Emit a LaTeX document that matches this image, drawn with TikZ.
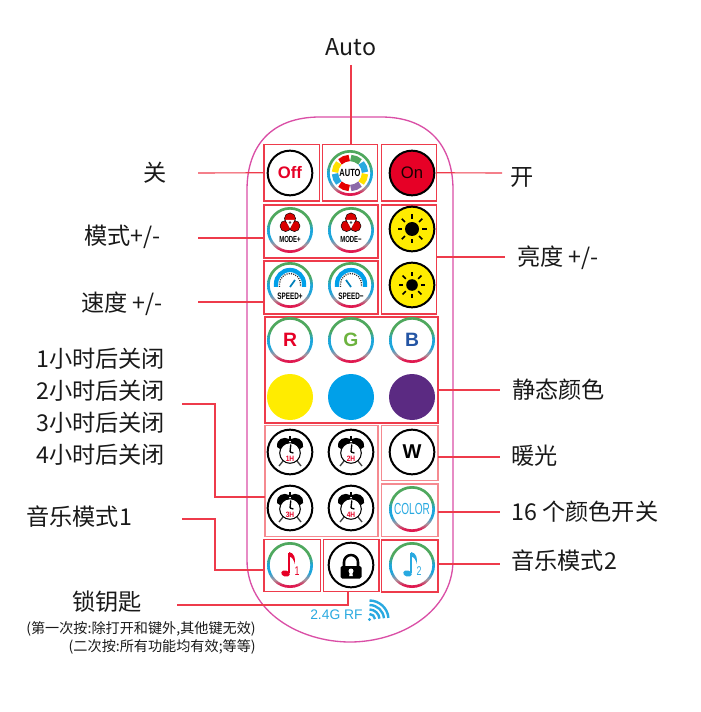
\documentclass[tikz,border=0pt]{standalone}
\usepackage{fontspec}
\setmainfont{Noto Sans CJK SC}
\newfontfamily\latinb{Liberation Sans}
\usetikzlibrary{fit}
\definecolor{lnred}{HTML}{EE3B4B}
\definecolor{lnpale}{HTML}{F58A90}
\definecolor{shell}{HTML}{DA4FA6}
\definecolor{rg}{HTML}{4FA85E}
\definecolor{rc}{HTML}{1CA6DC}
\definecolor{rv}{HTML}{A8929C}
\definecolor{rb}{HTML}{E0184F}
\definecolor{skyb}{HTML}{29A9E0}
\definecolor{redb}{HTML}{E60026}
\definecolor{yel}{HTML}{FFEC00}
\definecolor{purp}{HTML}{5B2A82}
\definecolor{cyanb}{HTML}{00A0E9}
\definecolor{gtxt}{HTML}{6DB33F}
\definecolor{btxt}{HTML}{2455A4}
\pgfdeclareverticalshading{ringsh}{100bp}{color(0bp)=(rb); color(28bp)=(rb); color(34bp)=(rv); color(42bp)=(rc); color(50bp)=(rc); color(60bp)=(rg); color(100bp)=(rg)}
\tikzset{
  boxn/.style={draw=lnred,line width=.85pt,inner sep=0pt,outer sep=0pt},
  boxp/.style={draw=lnpale,line width=1pt,inner sep=0pt,outer sep=0pt},
  conn/.style={draw=lnred,line width=.85pt},
  lab/.style={inner sep=0pt,font=\fontsize{17.4}{19}\selectfont,text=black!90},
  small/.style={inner sep=0pt,font=\fontsize{10.6}{12}\selectfont,text=black!90},
  btn/.style={draw=black,line width=1.5pt,circle,minimum size=33.5pt,inner sep=0pt,fill=white},
  tiny/.style={inner sep=0pt}
}
\newcommand{\ringat}[2]{\shade[shading=ringsh,even odd rule] (#1,#2) circle (23) circle (20.3);}
\newcommand{\cond}[2]{\scalebox{#1}[1]{#2}}
\newcommand{\modeic}[4]{% x y label name
  \ringat{#1}{#2}
  \begin{scope}[shift={(#1,#2)}]
    \fill[red!85!black,draw=black,line width=.35pt] (0,-11.5) circle (5.6) (-4.4,-4) circle (5.6) (4.4,-4) circle (5.6);
    \fill[white] (-4.5,-10) -- (4.5,-10) -- (0,-1.5) -- cycle;
    \fill[black!70] (0,-7.5) circle (1.4);
    \node[tiny,font=\latinb\bfseries\fontsize{6.6}{7}\selectfont] (#4) at (0,9.5) {\cond{.68}{#3}};
  \end{scope}}
\newcommand{\speedic}[5]{% x y label name needle-dx
  \ringat{#1}{#2}
  \begin{scope}[shift={(#1,#2)}]
    \draw[cyanb,line width=3.2pt] (-14,2) -- (-14,-1) arc[start angle=180,end angle=360,radius=14] -- (14,2);
    \draw[black!80,line width=1pt,dash pattern=on .8pt off .9pt] (-10.5,2) -- (-10.5,-1) arc[start angle=180,end angle=360,radius=10.5] -- (10.5,2);
    \draw[cyanb!80!black,line width=1.3pt] (0,2) -- (#5,-5);
    \node[tiny,font=\latinb\bfseries\fontsize{7}{8}\selectfont] (#4) at (0,11) {\cond{.68}{#3}};
  \end{scope}}
\newcommand{\sunic}[4]{% x y coreradius name
  \node[btn,fill=yel] (#4) at (#1,#2) {};
  \begin{scope}[shift={(#1,#2)}]
    \fill[black] (0,0) circle (#3);
    \foreach \a in {0,45,...,315}
      \draw[black,line width=1.3pt] (\a:#3+3) -- (\a:#3+7.5);
  \end{scope}}
\newcommand{\alarmic}[4]{% x y label name
  \node[btn] (#4) at (#1,#2) {};
  \begin{scope}[shift={(#1,#2)}]
    \draw[black!75,line width=1pt] (-7,9) -- (-11,14) (7,9) -- (11,14);
    \fill[black] (-13,-5) .. controls (-14,-13) and (-6,-16) .. (-1,-13) -- (-1,-9) -- (-10,-3) -- cycle;
    \fill[black] (13,-5) .. controls (14,-13) and (6,-16) .. (1,-13) -- (1,-9) -- (10,-3) -- cycle;
    \draw[black,line width=1pt] (0,-16) -- (0,-11);
    \draw[black,line width=.8pt,fill=white] (0,1) circle (10.3);
    \draw[black,line width=1pt] (0,0) -- (.8,-7.5) (0,0) -- (3.4,1);
    \node[tiny,text=redb,font=\latinb\bfseries\fontsize{5.8}{6}\selectfont] at (0,7) {\cond{.85}{#3}};
  \end{scope}}
\newcommand{\noteic}[5]{% x y colour digit name
  \ringat{#1}{#2}
  \begin{scope}[shift={(#1,#2)}]
    \fill[#3,rotate around={-15:(-4.5,8.5)}] (-4.5,8.5) ellipse (4.4 and 3.1);
    \draw[#3,line width=1.2pt] (-.9,8) -- (-.9,-12);
    \fill[#3] (-.9,-13) .. controls (4,-12) and (6,-7) .. (4.5,-1) .. controls (4.2,-5) and (2,-8) .. (-.9,-8.5) -- cycle;
    \node[tiny,text=#3,font=\latinb\fontsize{9.5}{10}\selectfont] (#5) at (7,6) {\cond{.7}{#4}};
  \end{scope}}
\begin{document}
\begin{tikzpicture}[x=.75pt,y=-.75pt]
\useasboundingbox (0,0) rectangle (700,712);
% shell
\draw[shell,line width=1pt] (247,190) .. controls (247,145) and (272,117) .. (320,117) -- (381,117)
  .. controls (428,117) and (453,145) .. (453,190) -- (453,560)
  .. controls (453,612) and (400,642) .. (350,642) .. controls (300,642) and (247,612) .. (247,560) -- cycle;
% boxes
\node[boxn,fit={(264,144.5)(319.5,201)}] (boff) {};
\node[boxn,fit={(322.5,144.5)(377.5,201)}] (bauto) {};
\node[boxn,fit={(381.5,144.5)(436.5,201)}] (bon) {};
\node[boxn,fit={(264,205)(378,258)}] (bmode) {};
\node[boxn,fit={(264,261)(378,314)}] (bspeed) {};
\node[boxn,fit={(381.5,205)(436.5,314)}] (bsun) {};
\node[boxn,fit={(265,317)(438,423)}] (bstatic) {};
\node[boxp,fit={(265,425.7)(378,536.7)}] (balarm) {};
\node[boxp,fit={(381.7,425.7)(438,480.7)}] (bw) {};
\node[boxp,fit={(381.7,484)(438,536.7)}] (bcolor) {};
\node[boxn,fit={(264,539.3)(320.3,591.3)}] (bm1) {};
\node[boxn,fit={(323.3,539.3)(379,591.3)}] (block) {};
\node[boxn,fit={(381.7,540)(438,592)}] (bm2) {};
% top row
\node[btn,text=redb,font=\latinb\bfseries\fontsize{12.5}{13}\selectfont] (off) at (290,173) {Off};
\ringat{350}{173}
\begin{scope}[shift={(350,173)}]
  \foreach \s/\c in {-135/red!90!black,-90/rg,-45/skyb,0/yel!90!orange,45/purp!70,90/red!90!black,135/skyb,180/yel!90!orange}
    \draw[\c,line width=4.8pt] (\s+3:15) arc[start angle=\s+3,end angle=\s+42,radius=15];
  \node[tiny,font=\latinb\bfseries\fontsize{7.8}{8}\selectfont] (autot) at (0,0) {\cond{.72}{AUTO}};
\end{scope}
\node[btn,fill=redb,text=black!90!red,font=\latinb\fontsize{12.5}{13}\selectfont] (onb) at (412,173) {On};
% mode, speed, sun
\modeic{290}{230}{MODE+}{mp}
\modeic{351}{230}{MODE−}{mm}
\speedic{290}{285}{SPEED+}{sp}{5}
\speedic{351}{285}{SPEED−}{sm}{-5}
\sunic{412}{229}{7}{sun1}
\sunic{412}{285}{5.8}{sun2}
% colours
\ringat{290}{340} \node[tiny,text=redb,font=\latinb\bfseries\fontsize{14.5}{15}\selectfont] (tr) at (290,340) {R};
\ringat{351}{340} \node[tiny,text=gtxt,font=\latinb\bfseries\fontsize{14.5}{15}\selectfont] (tg) at (351,340) {G};
\ringat{412}{340} \node[tiny,text=btxt,font=\latinb\bfseries\fontsize{14.5}{15}\selectfont] (tb) at (412,340) {B};
\node[btn,draw=none,fill=yel,minimum size=34.5pt] (cy) at (290,397) {};
\node[btn,draw=none,fill=cyanb,minimum size=34.5pt] (cc) at (351,397) {};
\node[btn,draw=none,fill=purp,minimum size=34.5pt] (cp) at (412,397) {};
% alarms
\alarmic{290}{452}{1H}{a1}
\alarmic{351}{452}{2H}{a2}
\alarmic{290}{508}{3H}{a3}
\alarmic{351}{508}{4H}{a4}
\node[btn,font=\latinb\bfseries\fontsize{15}{16}\selectfont] (wb) at (412,452) {W};
\ringat{412}{509}
\node[tiny,text=skyb,font=\latinb\fontsize{12}{13}\selectfont] (colt) at (412,509) {\cond{.63}{COLOR}};
% bottom row
\noteic{290}{565}{redb}{1}{n1}
\node[btn] (lk) at (351,565) {};
\begin{scope}[shift={(351,565)}]
  \draw[black,line width=1.9pt] (-7,2) -- (-7,-3) arc[start angle=180,end angle=360,radius=7] -- (7,2);
  \fill[black,rounded corners=1.2pt] (-10.5,1) rectangle (10.5,13.5);
  \fill[white] (0,6) circle (2.5) (-1.2,6) -- (1.2,6) -- (1.8,11) -- (-1.8,11) -- cycle;
\end{scope}
\noteic{412}{565}{skyb}{2}{n2}
% RF
\node[tiny,text=skyb,anchor=west,font=\latinb\fontsize{10.4}{11}\selectfont] (rf) at (310,615) {2.4G RF};
\begin{scope}[shift={(369.5,619.5)}]
  \fill[skyb] (0,0) circle (1.7);
  \foreach \r in {5.5,10,14.5,19}
    \draw[skyb,line width=1.8pt] (0,-\r) arc[start angle=-90,end angle=-5,radius=\r];
\end{scope}
% labels
\node[lab] (lauto) at (351,47) {Auto};
\node[lab] (loff) at (155,173) {关};
\node[lab,anchor=west] (lon) at (510,177) {开};
\node[lab,anchor=west] (lmode) at (84,237) {模式+/-};
\node[lab,anchor=west] (lspeed) at (81,304) {速度 +/-};
\node[lab,anchor=west] (lsun) at (517,258) {亮度 +/-};
\node[lab,anchor=west] (lstatic) at (512,390) {静态颜色};
\node[lab,anchor=west] (lw) at (511,456) {暖光};
\node[lab,anchor=west] (lcol) at (511,512) {16 个颜色开关};
\node[lab,anchor=west] (lm2) at (511,561) {音乐模式2};
\node[lab,anchor=west] (la1) at (36,359) {1小时后关闭};
\node[lab,anchor=west] (la2) at (36,391) {2小时后关闭};
\node[lab,anchor=west] (la3) at (36,423) {3小时后关闭};
\node[lab,anchor=west] (la4) at (36,455) {4小时后关闭};
\node[lab,anchor=west] (lm1) at (26,517) {音乐模式1};
\node[lab,anchor=west] (llk) at (72,602) {锁钥匙};
\node[small,anchor=east] (s1) at (256,629) {(第一次按:除打开和键外,其他键无效)};
\node[small,anchor=east] (s2) at (256,647) {(二次按:所有功能均有效;等等)};
% free ends
\coordinate (eauto) at (351,65);
\coordinate (eoff) at (198,173);
\coordinate (eon) at (502,173);
\coordinate (emode) at (198,238);
\coordinate (espeed) at (198,302);
\coordinate (esun) at (505,257);
\coordinate (estatic) at (500,390);
\coordinate (ew) at (500,457);
\coordinate (ecol) at (500,512);
\coordinate (em2) at (500,564);
\coordinate (ea) at (182,404);
\coordinate (em1) at (182,519);
\coordinate (elk) at (177,605);
% connectors
\draw[conn] (eauto) -- (eauto |- bauto.north);
\draw[conn] (eoff) -- (boff.west);
\draw[conn] (bon.east) -- (eon);
\draw[conn] (emode) -- (emode -| bmode.west);
\draw[conn] (espeed) -- (espeed -| bspeed.west);
\draw[conn] (esun -| bsun.east) -- (esun);
\draw[conn] (estatic -| bstatic.east) -- (estatic);
\draw[conn] (ew -| bw.east) -- (ew);
\draw[conn] (ecol -| bcolor.east) -- (ecol);
\draw[conn] (em2 -| bm2.east) -- (em2);
\draw[conn] (ea) -- (215,404) -- (215,497) -- (balarm.west |- 0,497);
\draw[conn] (em1) -- (215,519) -- (215,570) -- (bm1.west |- 0,570);
\draw[conn] (elk) -- (348,605) -- (348,591.3);
\end{tikzpicture}
\end{document}
